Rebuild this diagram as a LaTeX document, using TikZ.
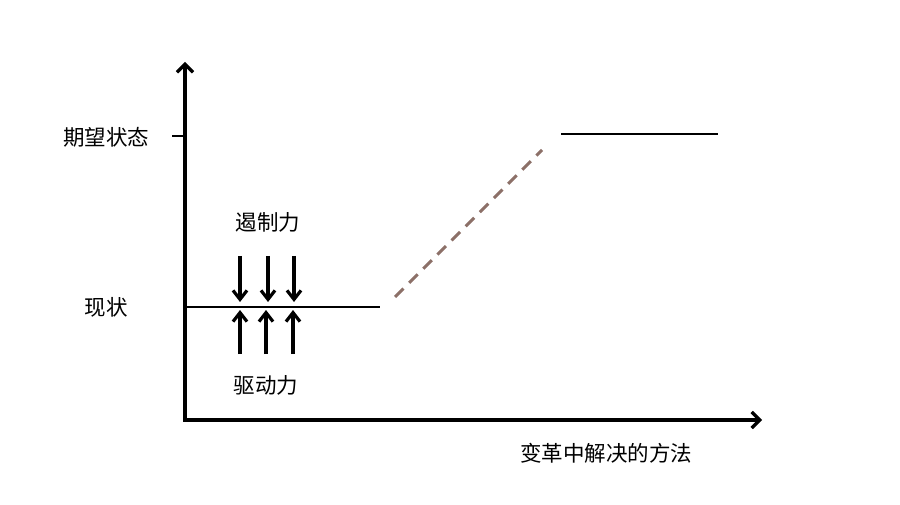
\documentclass[tikz,border=0pt]{standalone}
\usepackage{fontspec}
\setmainfont{Noto Sans CJK SC}
\usetikzlibrary{arrows.meta}
\definecolor{dashbrown}{HTML}{8C7068}
\begin{document}
\begin{tikzpicture}[x=1pt,y=-1pt,
  axis/.style={line width=3.6pt,-{Straight Barb[length=8pt,width=16pt,line width=3.2pt]}},
  force/.style={line width=3.4pt,-{Straight Barb[length=9pt,width=14pt,line width=3.2pt]}},
  level/.style={line width=1.6pt},
  lbl/.style={inner sep=0pt,font=\fontsize{21.5pt}{24pt}\selectfont}]
\useasboundingbox (0,0) rectangle (900,505);
\coordinate (O) at (185,420);
\coordinate (Ytop) at (185,62);
\coordinate (Xend) at (762,420);
\draw[axis] (O) -- (Ytop);
\draw[axis] ([xshift=-1.8pt]O) -- (Xend);
\coordinate (tickL) at (172,136);
\coordinate (tickR) at (185,136);
\draw[line width=1.4pt] (tickL) -- (tickR);
\node[lbl] (desired) at (106,137) {期望状态};
\node[lbl] (current) at (106,307) {现状};
\node[lbl] (restrain) at (268,222) {遏制力};
\node[lbl] (drive) at (266,385) {驱动力};
\node[lbl] (method) at (606,453) {变革中解决的方法};
\coordinate (curL) at (186,307);
\coordinate (curR) at (380,307);
\draw[level] (curL) -- (curR);
\coordinate (dashA) at (395,297);
\coordinate (dashB) at (542,150);
\draw[dashbrown,line width=3pt,dash pattern=on 12pt off 8pt] (dashA) -- (dashB);
\coordinate (desL) at (561,134);
\coordinate (desR) at (718,134);
\draw[level] (desL) -- (desR);
\foreach \x [count=\i] in {240,268,294}{
  \coordinate (d\i s) at (\x,256);
  \coordinate (d\i e) at (\x,302);
  \draw[force] (d\i s) -- (d\i e);
}
\foreach \x [count=\i] in {240,266,293}{
  \coordinate (u\i s) at (\x,354);
  \coordinate (u\i e) at (\x,310);
  \draw[force] (u\i s) -- (u\i e);
}
\end{tikzpicture}
\end{document}
